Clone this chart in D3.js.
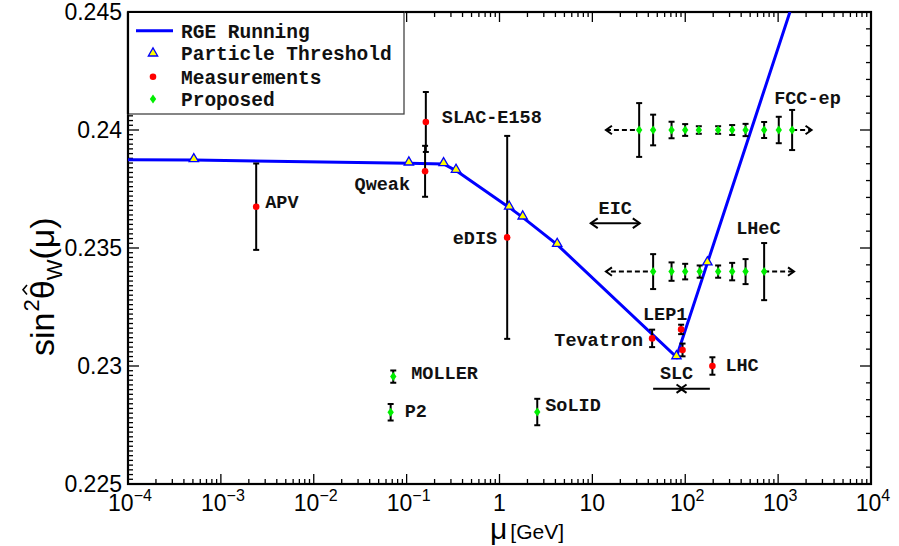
<!DOCTYPE html>
<html lang="en">
<head>
<meta charset="UTF-8">
<title>Running weak mixing angle</title>
<script src="https://d3js.org/d3.v7.min.js"></script>
<style>
  body { margin: 0; background: #fff; }
  .tick-label { font-family: "Liberation Sans", Arial, sans-serif; font-size: 23px; fill: #000; }
  .mono { font-family: "Liberation Mono", "Courier New", monospace; font-weight: bold; fill: #111; }
</style>
</head>
<body>
<script>
// RGE running curve: start / thresholds / end
const rgeStartMu = 1e-4, rgeStartS = 0.23874;
const thresholdMu = [5.11e-4, 0.1057, 0.25, 0.34, 1.27, 1.777, 4.18, 80.4, 173];
const thresholdS  = [0.23873, 0.23859, 0.23856, 0.23828, 0.23672, 0.23630, 0.23514, 0.23038, 0.23436];
const rgeEndMu = 1340, rgeEndS = 0.2450;

// measurements
const measNames = ["APV", "Qweak", "SLAC-E158", "eDIS", "Tevatron", "LEP1", "SLC", "LHC"];
const measMu    = [0.0024, 0.158, 0.161, 1.21, 44, 90.3, 93.5, 196];
const measS     = [0.23675, 0.23825, 0.24034, 0.23545, 0.23117, 0.23155, 0.23068, 0.23000];
const measErr   = [0.00183, 0.00108, 0.00127, 0.0043, 0.00037, 0.0002, 0.00027, 0.00037];

// proposed single points
const propNames = ["MOLLER", "P2", "SoLID"];
const propMu    = [0.0718, 0.0673, 2.55];
const propS     = [0.22955, 0.22804, 0.22805];
const propErr   = [0.00026, 0.00035, 0.00056];

// FCC-ep and LHeC series
const fccMu  = [31.9, 45.1, 71.2, 99.8, 140, 226, 320, 446, 707, 1016, 1415];
const fccS   = 0.2400;
const fccErr = [0.00114, 0.00065, 0.00035, 0.00025, 0.00016, 0.00016, 0.00021, 0.00026, 0.00034, 0.00056, 0.00085];
const fccArrowLeft = [28.7, 14.0], fccArrowRight = [1415, 2290];

const lhecMu  = [45.1, 71.2, 99.8, 143, 226, 320, 446, 707];
const lhecS   = 0.2340;
const lhecErr = [0.00074, 0.00039, 0.00033, 0.00026, 0.00026, 0.00037, 0.00053, 0.00121];
const lhecArrowLeft = [39.6, 14.0], lhecArrowRight = [707, 1483];

// EIC and SLC ranges
const eicRange = [9.6, 32.4], eicS = 0.23605;
const slcRange = [45.1, 184], slcCenter = 91.2, slcArrowS = 0.22904;

// axis ticks
const xTickLabels = ["10^−4", "10^−3", "10^−2", "10^−1", "1", "10", "10^2", "10^3", "10^4"];
const yTickValues = [0.225, 0.23, 0.235, 0.24, 0.245];
const yTickLabels = ["0.225", "0.23", "0.235", "0.24", "0.245"];

const legendLabels = ["RGE Running", "Particle Threshold", "Measurements", "Proposed"];

// ---------------------------------------------------------------
const W = 899, H = 546;
const L = 128, R = 871, T = 12, B = 484;

const svg = d3.select("body").append("svg")
  .attr("width", W).attr("height", H);

const x = d3.scaleLog().domain([1e-4, 1e4]).range([L, R]);
const y = d3.scaleLinear().domain([0.225, 0.245]).range([B, T]);

svg.append("defs").append("clipPath").attr("id", "plotclip")
  .append("rect").attr("x", L).attr("y", T).attr("width", R - L).attr("height", B - T);

// ticks (inward, all four sides)
const ticks = svg.append("g").attr("stroke", "#000").attr("stroke-width", 1.3);
for (let e = -4; e <= 4; e++) {
  const v = Math.pow(10, e);
  if (e > -4 && e < 4) {
    ticks.append("line").attr("x1", x(v)).attr("x2", x(v)).attr("y1", B).attr("y2", B - 10);
    ticks.append("line").attr("x1", x(v)).attr("x2", x(v)).attr("y1", T).attr("y2", T + 10);
  }
  if (e < 4) {
    for (let k = 2; k <= 9; k++) {
      const m = k * v;
      ticks.append("line").attr("x1", x(m)).attr("x2", x(m)).attr("y1", B).attr("y2", B - 5);
      ticks.append("line").attr("x1", x(m)).attr("x2", x(m)).attr("y1", T).attr("y2", T + 5);
    }
  }
}
// left: major 0.005, minor 0.0002
d3.range(0, 101).forEach(i => {
  const v = 0.225 + i * 0.0002;
  const major = i % 25 === 0;
  if (v > 0.2451) return;
  ticks.append("line").attr("x1", L).attr("x2", L + (major ? 11 : 5)).attr("y1", y(v)).attr("y2", y(v));
});
// right: major 0.005, 7 subdivisions
d3.range(0, 29).forEach(i => {
  const v = 0.225 + i * 0.005 / 7;
  const major = i % 7 === 0;
  ticks.append("line").attr("x1", R).attr("x2", R - (major ? 11 : 5)).attr("y1", y(v)).attr("y2", y(v));
});

// frame
svg.append("rect").attr("x", L).attr("y", T).attr("width", R - L).attr("height", B - T)
  .attr("fill", "none").attr("stroke", "#000").attr("stroke-width", 2.2);

// x tick labels
xTickLabels.forEach((lab, i) => {
  const v = Math.pow(10, i - 4);
  const parts = lab.split("^");
  const t = svg.append("text").attr("class", "tick-label")
    .attr("x", x(v) + (parts[1] ? 2 : 0)).attr("y", 511).attr("text-anchor", "middle");
  t.append("tspan").text(parts[0]);
  if (parts[1]) t.append("tspan").attr("dy", -10).attr("font-size", 16).text(parts[1]);
});

// y tick labels
yTickValues.forEach((v, i) => {
  svg.append("text").attr("class", "tick-label")
    .attr("x", L - 6).attr("y", y(v) + 8).attr("text-anchor", "end").text(yTickLabels[i]);
});

// axis titles
const xt = svg.append("text").attr("x", 490).attr("y", 539)
  .attr("font-family", "Liberation Sans, Arial, sans-serif");
xt.append("tspan").attr("font-size", 30).text("μ");
xt.append("tspan").attr("font-size", 21).attr("dx", 3).text("[GeV]");

// y title built piece by piece (rotated), with a drawn hat over theta
const yt = svg.append("g").attr("transform", "translate(54,356) rotate(-90)")
  .attr("font-family", "Liberation Sans, Arial, sans-serif");
let cx = 0;
function piece(txt, size, dy) {
  const t = yt.append("text").attr("x", cx).attr("y", dy).attr("font-size", size).text(txt);
  const w = t.node().getComputedTextLength();
  const start = cx;
  cx += w;
  return [start, w];
}
piece("sin", 34, 0);
cx += 1;
piece("2", 22, -15);
const th = piece("θ", 34, 0);
yt.append("path").attr("fill", "none").attr("stroke", "#000").attr("stroke-width", 1.6)
  .attr("d", `M${th[0] + th[1] * 0.25},${-27} L${th[0] + th[1] * 0.5},${-31} L${th[0] + th[1] * 0.75},${-27}`);
piece("W", 22, 8);
piece("(μ)", 34, 0);

// plot layer
const plot = svg.append("g").attr("clip-path", "url(#plotclip)");

const curveMu = [rgeStartMu, ...thresholdMu, rgeEndMu];
const curveS  = [rgeStartS, ...thresholdS, rgeEndS];
plot.append("path")
  .datum(curveMu.map((m, i) => [m, curveS[i]]))
  .attr("fill", "none").attr("stroke", "#0000ff").attr("stroke-width", 3)
  .attr("d", d3.line().x(d => x(d[0])).y(d => y(d[1])));

function errBar(g, mu, s, e, cap) {
  g.append("line").attr("x1", x(mu)).attr("x2", x(mu)).attr("y1", y(s - e)).attr("y2", y(s + e));
  [s - e, s + e].forEach(v => g.append("line")
    .attr("x1", x(mu) - cap).attr("x2", x(mu) + cap).attr("y1", y(v)).attr("y2", y(v)));
}
const eb = plot.append("g").attr("stroke", "#000").attr("stroke-width", 2);
measMu.forEach((m, i) => errBar(eb, m, measS[i], measErr[i], 3));
propMu.forEach((m, i) => errBar(eb, m, propS[i], propErr[i], 3));
fccMu.forEach((m, i) => errBar(eb, m, fccS, fccErr[i], 3));
lhecMu.forEach((m, i) => errBar(eb, m, lhecS, lhecErr[i], 3));

// arrows
function chevron(g, px, py, dir, size) {
  g.append("path").attr("fill", "none")
    .attr("d", `M${px - dir * size},${py - size * 0.7} L${px},${py} L${px - dir * size},${py + size * 0.7}`);
}
const ar = plot.append("g").attr("stroke", "#000").attr("stroke-width", 2).attr("fill", "none");
[[fccArrowLeft, fccS, -1], [fccArrowRight, fccS, 1], [lhecArrowLeft, lhecS, -1], [lhecArrowRight, lhecS, 1]]
  .forEach(([rng, s, dir]) => {
    ar.append("line").attr("x1", x(rng[0])).attr("x2", x(rng[1])).attr("y1", y(s)).attr("y2", y(s))
      .attr("stroke-dasharray", "5,3");
    chevron(ar, x(rng[1]), y(s), dir, 6);
  });
ar.append("line").attr("x1", x(eicRange[0])).attr("x2", x(eicRange[1])).attr("y1", y(eicS)).attr("y2", y(eicS));
chevron(ar, x(eicRange[0]), y(eicS), -1, 7);
chevron(ar, x(eicRange[1]), y(eicS), 1, 7);
ar.append("line").attr("x1", x(slcRange[0])).attr("x2", x(slcRange[1])).attr("y1", y(slcArrowS)).attr("y2", y(slcArrowS));
chevron(ar, x(slcCenter) + 1, y(slcArrowS), 1, 6);
chevron(ar, x(slcCenter) - 1, y(slcArrowS), -1, 6);

// markers
const tri = d3.symbol().type(d3.symbolTriangle).size(38);
plot.selectAll(".thr").data(thresholdMu).join("path")
  .attr("transform", (m, i) => `translate(${x(m)},${y(thresholdS[i]) - 1})`)
  .attr("d", tri).attr("fill", "#ffff00").attr("stroke", "#0000ff").attr("stroke-width", 1.3);

plot.selectAll(".meas").data(measMu).join("circle")
  .attr("cx", m => x(m)).attr("cy", (m, i) => y(measS[i])).attr("r", 3.3).attr("fill", "#ff0000");

const diamond = "M0,-4.5 L3.2,0 L0,4.5 L-3.2,0 Z";
const greens = [
  ...propMu.map((m, i) => [m, propS[i]]),
  ...fccMu.map(m => [m, fccS]),
  ...lhecMu.map(m => [m, lhecS])
];
plot.selectAll(".prop").data(greens).join("path")
  .attr("transform", d => `translate(${x(d[0])},${y(d[1])})`)
  .attr("d", diamond).attr("fill", "#00ee00");

// labels
const labelLayout = {
  "APV": [9, -5, "start"], "Qweak": [-15, 12, "end"], "SLAC-E158": [16, -5, "start"],
  "eDIS": [-10, 0, "end"], "Tevatron": [-9, 1, "end"], "LEP1": [-16, -16, "middle"],
  "SLC": [-6, 23, "middle"], "LHC": [13, -1, "start"],
  "MOLLER": [18, -4, "start"], "P2": [14, -2, "start"], "SoLID": [8, -7, "start"]
};
function label(txt, px, py, anchor) {
  svg.append("text").attr("class", "mono").attr("font-size", 18.5)
    .attr("x", px).attr("y", py).attr("dy", "0.35em").attr("text-anchor", anchor).text(txt);
}
measNames.forEach((n, i) => {
  const o = labelLayout[n];
  label(n, x(measMu[i]) + o[0], y(measS[i]) + o[1], o[2]);
});
propNames.forEach((n, i) => {
  const o = labelLayout[n];
  label(n, x(propMu[i]) + o[0], y(propS[i]) + o[1], o[2]);
});
label("FCC-ep", x(fccMu[fccMu.length - 1]) - 18, y(fccS) - 32, "start");
label("LHeC", x(lhecMu[lhecMu.length - 1]) - 28, y(lhecS) - 44, "start");
label("EIC", x(Math.sqrt(eicRange[0] * eicRange[1])), y(eicS) - 16, "middle");

// legend
const lg = svg.append("g");
lg.append("rect").attr("x", L).attr("y", T).attr("width", 404 - L).attr("height", 114 - T)
  .attr("fill", "#fff").attr("stroke", "#444").attr("stroke-width", 1.3);
lg.append("line").attr("x1", L).attr("x2", 404).attr("y1", T).attr("y2", T)
  .attr("stroke", "#000").attr("stroke-width", 2.2);
lg.append("line").attr("x1", L).attr("x2", L).attr("y1", T).attr("y2", 114)
  .attr("stroke", "#000").attr("stroke-width", 2.2);
const ly = [30.7, 53.3, 76.7, 99];
lg.append("line").attr("x1", 136).attr("x2", 173).attr("y1", ly[0]).attr("y2", ly[0])
  .attr("stroke", "#0000ff").attr("stroke-width", 3);
lg.append("path").attr("transform", `translate(153,${ly[1]})`).attr("d", tri)
  .attr("fill", "#ffff00").attr("stroke", "#0000ff").attr("stroke-width", 1.3);
lg.append("circle").attr("cx", 153).attr("cy", ly[2]).attr("r", 3.3).attr("fill", "#ff0000");
lg.append("path").attr("transform", `translate(153,${ly[3]})`).attr("d", diamond).attr("fill", "#00ee00");
legendLabels.forEach((t, i) => {
  lg.append("text").attr("class", "mono").attr("font-size", 19.5)
    .attr("x", 181).attr("y", ly[i]).attr("dy", "0.35em").text(t);
});
</script>
</body>
</html>
